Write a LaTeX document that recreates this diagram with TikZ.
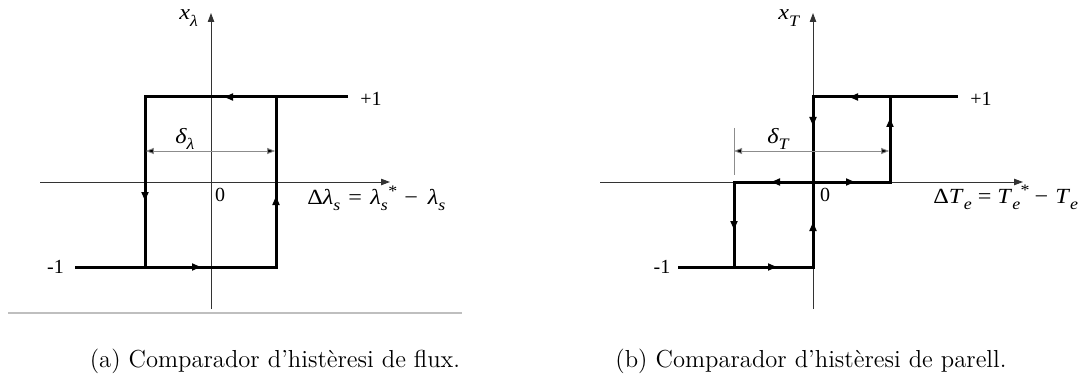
\documentclass[tikz,border=0pt]{standalone}
\usepackage{fontspec}
\newfontfamily\tnr{Liberation Serif}
\newfontfamily\tnrw[FakeStretch=1.12]{Liberation Serif}
\usetikzlibrary{arrows.meta}
\newcommand\ssub[1]{\raisebox{-3.3pt}{\fontsize{8pt}{9pt}\selectfont\itshape #1}}
\newcommand\ssupsub[2]{\raisebox{-3.3pt}{\fontsize{8pt}{9pt}\selectfont\itshape #2}\hspace{0.2pt}\raisebox{3.8pt}{\fontsize{8pt}{9pt}\selectfont #1}}
\tikzset{
  axis/.style={line width=0.5pt, draw=black!80, -{Triangle[length=4.5pt,width=3.2pt]}},
  thk/.style={line width=1.5pt, line join=miter, line cap=butt},
  tipr/.style={line width=1.5pt, -{Triangle[length=4.5pt,width=3.4pt]}},
  dim/.style={line width=0.45pt, draw=black!45, {Triangle[length=4pt,width=3pt,fill=black]}-{Triangle[length=4pt,width=3pt,fill=black]}},
  ext/.style={line width=0.45pt, draw=black!45},
  lbl/.style={font=\tnr\fontsize{10pt}{11pt}\selectfont, inner sep=0pt},
  mlbl/.style={font=\tnrw\fontsize{10.8pt}{12pt}\selectfont, inner sep=0pt, anchor=base west},
  captxt/.style={font=\fontsize{12.3pt}{14pt}\selectfont, inner sep=0pt}
}
\begin{document}
\begin{tikzpicture}[x=0.5pt,y=-0.5pt]
\useasboundingbox (0,0) rectangle (1086,385);
% ---------------- panel (a)
\coordinate (aL) at (40,182);   \coordinate (aR) at (390,182);
\coordinate (aB) at (211,309);  \coordinate (aT) at (211,13);
\draw[axis] (aL) -- (aR);
\draw[axis] (aB) -- (aT);
\coordinate (a1) at (75,267);  \coordinate (a2) at (276,267);
\coordinate (a3) at (276,97);  \coordinate (a4) at (348,97);
\coordinate (a5) at (145,97);  \coordinate (a6) at (145,267);
\draw[thk] (a1) -- (a2) -- (a3);
\draw[thk] (a4) -- (a5) -- (a6);
\draw[tipr] (236,97) -- (224,97);
\draw[tipr] (189,267) -- (201,267);
\draw[tipr] (145,189) -- (145,201);
\draw[tipr] (276,208) -- (276,196);
\coordinate (ad1) at (145.8,151); \coordinate (ad2) at (275.2,151);
\draw[dim] (ad1) -- (ad2);
\draw[draw=black!25, line width=0.6pt] (8,313) -- (462,313);
\node[mlbl] (axl) at (179,20) {\itshape x\ssub{λ}};
\node[lbl] (ap1) at (371,98.5) {+1};
\node[lbl] (am1) at (55.5,266.5) {-1};
\node[lbl] (a0) at (220,195) {0};
\node[mlbl] (adl) at (175,143) {\itshape δ\ssub{λ}};
\node[mlbl] (aeq) at (307,204) {Δ\textit{λ}\ssub{s}\hspace{4pt}=\hspace{4.2pt}\textit{λ}\ssupsub{*}{s}\hspace{3.5pt}−\hspace{5pt}\textit{λ}\ssub{s}};
\node[captxt] (capa) at (275,361) {(a) Comparador d'histèresi de flux.};
% ---------------- panel (b)
\coordinate (bL) at (600,182);  \coordinate (bR) at (1023,182);
\coordinate (bB) at (813,309);  \coordinate (bT) at (813,13);
\draw[axis] (bL) -- (bR);
\draw[axis] (bB) -- (bT);
\coordinate (b1) at (678,267); \coordinate (b2) at (813,267);
\coordinate (b3) at (813,97);  \coordinate (b4) at (958,97);
\coordinate (b5) at (890,97);  \coordinate (b6) at (890,182);
\coordinate (b7) at (734,182); \coordinate (b8) at (734,267);
\draw[thk] (b1) -- (b2) -- (b3) -- (b4);
\draw[thk] (b5) -- (b6) -- (b7) -- (b8);
\draw[tipr] (861,97) -- (849,97);
\draw[tipr] (890,130) -- (890,118);
\draw[tipr] (813,114) -- (813,126);
\draw[tipr] (783,182) -- (771,182);
\draw[tipr] (843,182) -- (855,182);
\draw[tipr] (734,218) -- (734,230);
\draw[tipr] (813,234) -- (813,222);
\draw[tipr] (765,267) -- (777,267);
\coordinate (bd1) at (734,151); \coordinate (bd2) at (889.2,151);
\draw[dim] (bd1) -- (bd2);
\coordinate (be1) at (734,128); \coordinate (be2) at (734,175);
\draw[ext] (be1) -- (be2);
\node[mlbl] (bxl) at (778,20) {\itshape x\ssub{T}};
\node[lbl] (bp1) at (981,98.5) {+1};
\node[lbl] (bm1) at (662,266.5) {-1};
\node[lbl] (b0) at (825,195) {0};
\node[mlbl] (bdl) at (767,143) {\itshape δ\ssub{T}};
\node[mlbl] (beq) at (933,203) {Δ\textit{T}\ssub{e}\hspace{3pt}=\hspace{3pt}\textit{T}\ssupsub{*}{e}\hspace{2.5pt}−\hspace{3.5pt}\textit{T}\ssub{e}};
\node[captxt] (capb) at (811,361) {(b) Comparador d'histèresi de parell.};
\end{tikzpicture}
\end{document}
